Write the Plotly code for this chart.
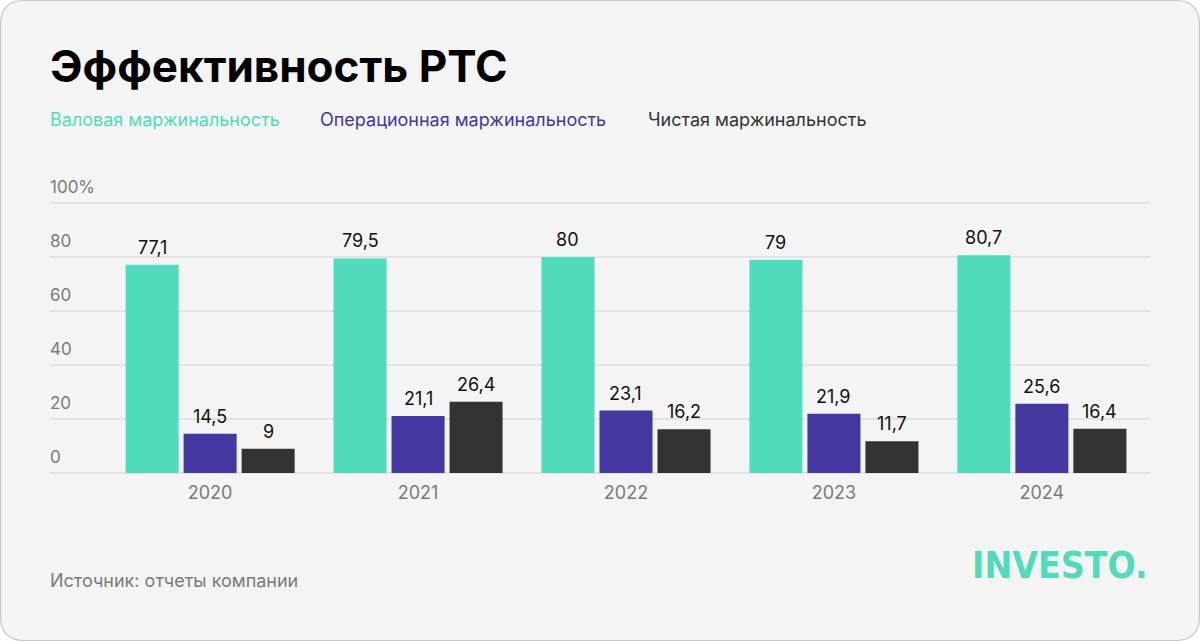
import plotly.graph_objects as go

# данные
years = ["2020", "2021", "2022", "2023", "2024"]
gross_margin = [77.1, 79.5, 80, 79, 80.7]
oper_margin = [14.5, 21.1, 23.1, 21.9, 25.6]
net_margin = [9, 26.4, 16.2, 11.7, 16.4]
series_names = ["Валовая маржинальность", "Операционная маржинальность", "Чистая маржинальность"]
y_ticks = [0, 20, 40, 60, 80, 100]
y_tick_text = ["0", "20", "40", "60", "80", "100%"]

GREEN = "#50DCBA"
PURPLE = "#4238A0"
DARK = "#333333"
GRAY = "#7a7a7a"
FONT = "Inter, Noto Sans, sans-serif"

W, H = 1200, 641
L, R, T, B = 50, 50, 202, 167
PW, PH = W - L - R, H - T - B


def px(x):
    return (x - L) / PW


def py(y):
    return (H - B - y) / PH


fig = go.Figure()
series = [gross_margin, oper_margin, net_margin]
colors = [GREEN, PURPLE, DARK]
for name, vals, col in zip(series_names, series, colors):
    fig.add_trace(go.Bar(x=years, y=vals, name=name, marker_color=col,
                         marker_line_width=0, showlegend=False))

annotations = []
# подписи значений (x — номер категории)
bar_step = 58
for i, vals in enumerate(series):
    for k, v in enumerate(vals):
        annotations.append(dict(
            x=k, y=v, xref="x", yref="y", text=f"{v:g}".replace(".", ","),
            showarrow=False, xanchor="center", yanchor="bottom",
            xshift=(i - 1) * bar_step, yshift=5,
            font=dict(family=FONT, size=18, color="#111111"),
        ))

# подписи оси Y над линиями сетки
for v, t in zip(y_ticks, y_tick_text):
    annotations.append(dict(
        x=0, y=v, xref="paper", yref="y", text=t, showarrow=False,
        xanchor="left", yanchor="bottom", yshift=4, xshift=-2,
        font=dict(family=FONT, size=17, color=GRAY),
    ))

# заголовок, легенда, источник, логотип
annotations.append(dict(x=px(48), y=py(66), xref="paper", yref="paper",
                        text="<b>Эффективность РТС</b>", showarrow=False,
                        xanchor="left", yanchor="middle",
                        font=dict(family=FONT, size=44, color="#000000")))
for name, col, x0 in zip(series_names, colors, [48, 318, 646]):
    annotations.append(dict(x=px(x0), y=py(120), xref="paper", yref="paper",
                            text=name, showarrow=False, xanchor="left", yanchor="middle",
                            font=dict(family=FONT, size=18, color=col)))
annotations.append(dict(x=px(48), y=py(580), xref="paper", yref="paper",
                        text="Источник: отчеты компании", showarrow=False,
                        xanchor="left", yanchor="middle",
                        font=dict(family=FONT, size=18, color=GRAY)))
annotations.append(dict(x=px(1150), y=py(565), xref="paper", yref="paper",
                        text="<b>INVESTO.</b>", showarrow=False,
                        xanchor="right", yanchor="middle",
                        font=dict(family="Liberation Sans Narrow, DejaVu Sans Condensed, sans-serif",
                                  size=37, color=GREEN)))

# карточка со скруглёнными углами
r = 24
x0, x1, y0, y1 = 0.5, W - 0.5, 0.5, H - 0.5
card = (f"M {px(x0 + r)},{py(y0)} L {px(x1 - r)},{py(y0)} "
        f"Q {px(x1)},{py(y0)} {px(x1)},{py(y0 + r)} L {px(x1)},{py(y1 - r)} "
        f"Q {px(x1)},{py(y1)} {px(x1 - r)},{py(y1)} L {px(x0 + r)},{py(y1)} "
        f"Q {px(x0)},{py(y1)} {px(x0)},{py(y1 - r)} L {px(x0)},{py(y0 + r)} "
        f"Q {px(x0)},{py(y0)} {px(x0 + r)},{py(y0)} Z")

fig.update_layout(
    width=W, height=H,
    margin=dict(l=L, r=R, t=T, b=B),
    paper_bgcolor="white",
    plot_bgcolor="rgba(0,0,0,0)",
    barmode="group",
    bargap=0.163,
    bargroupgap=0.086,
    font=dict(family=FONT),
    annotations=annotations,
    shapes=[dict(type="path", path=card, xref="paper", yref="paper",
                 fillcolor="#f4f4f4", line=dict(color="#c8c8c8", width=1.2),
                 layer="below")],
)
fig.update_xaxes(type="category", range=[-0.77, 4.52], showgrid=False, zeroline=False,
                 showline=False, ticks="", ticklabelstandoff=6,
                 tickfont=dict(family=FONT, size=18, color=GRAY))
fig.update_yaxes(range=[-0.4, 100.4], tickvals=y_ticks, showticklabels=False,
                 showgrid=True, gridcolor="#e3e3e3", gridwidth=2,
                 zeroline=False, showline=False)

fig.write_html("out.html", config={"displayModeBar": False},
               post_script="document.body.style.margin='0';")
